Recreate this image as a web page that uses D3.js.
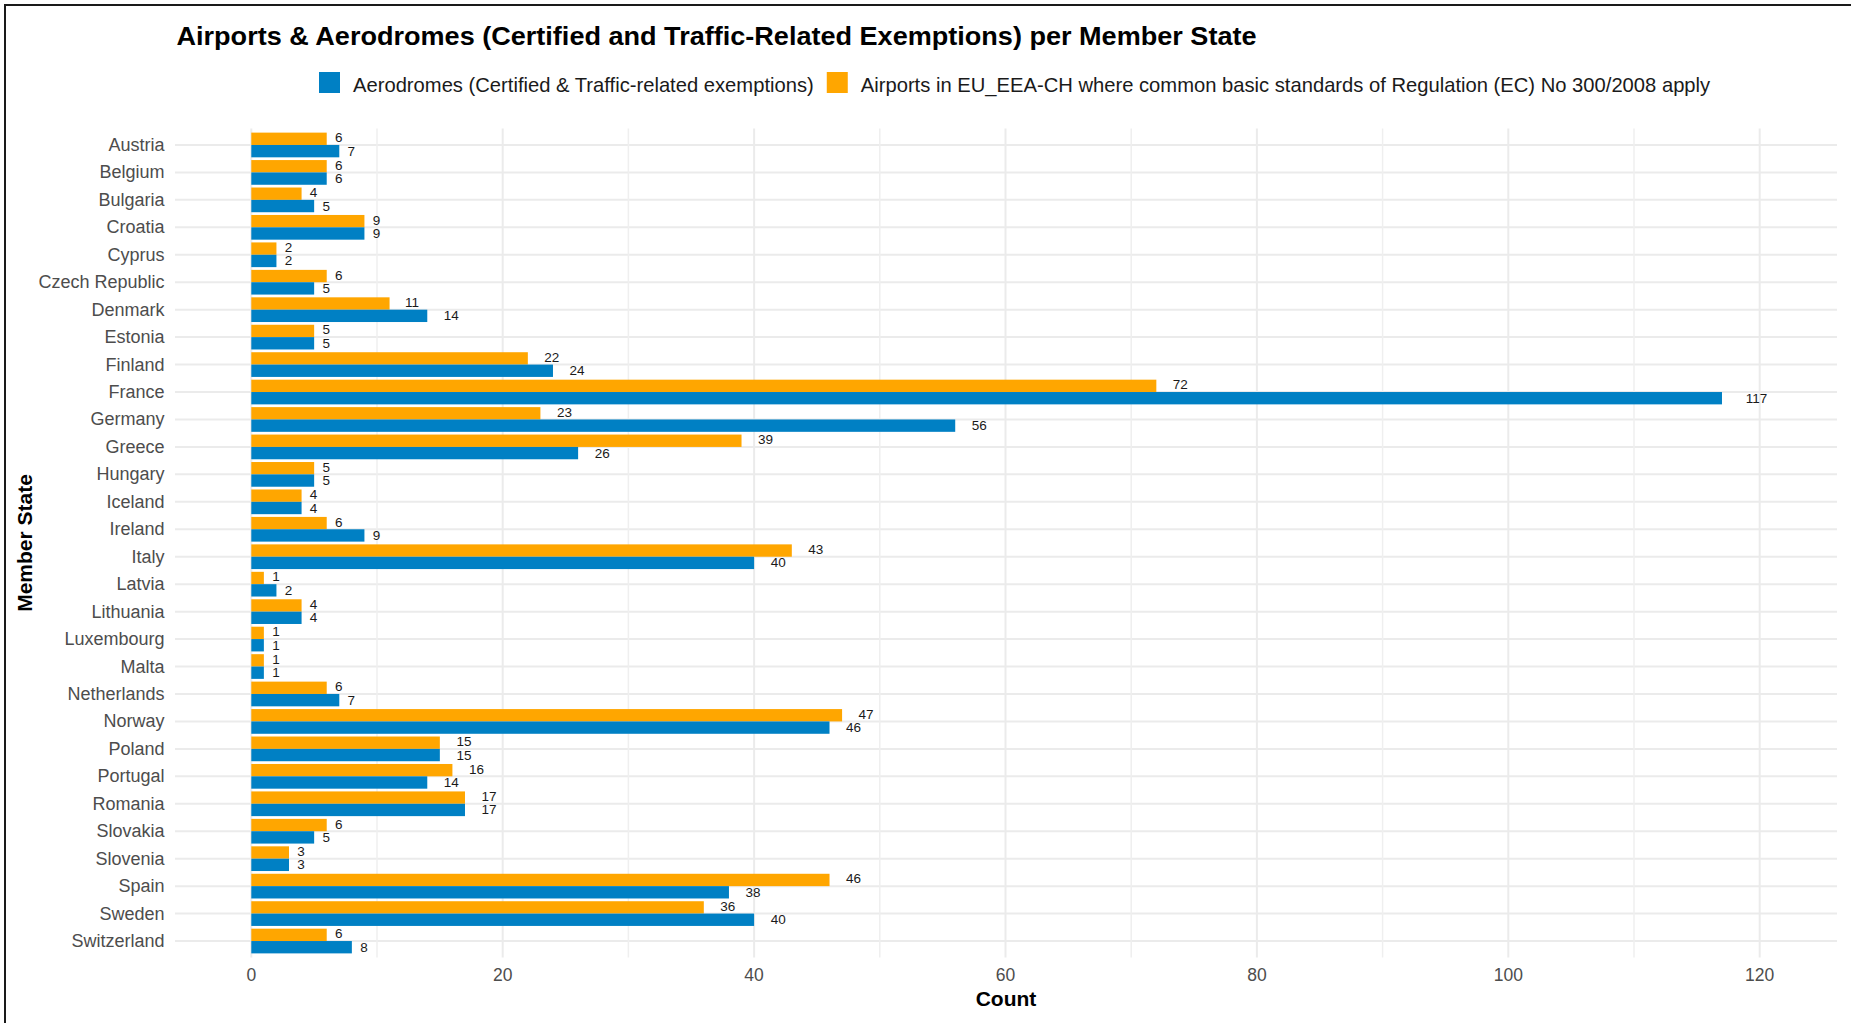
<!DOCTYPE html>
<html>
<head>
<meta charset="utf-8">
<script src="https://cdn.jsdelivr.net/npm/d3@7"></script>
<style>
  html, body { margin: 0; padding: 0; background: #ffffff; }
  svg { display: block; font-family: "Liberation Sans", Arial, sans-serif; }
</style>
</head>
<body>
<svg id="chart" width="1851" height="1023"></svg>
<script>
// Member states, top to bottom
const states = [
  "Austria", "Belgium", "Bulgaria", "Croatia", "Cyprus", "Czech Republic",
  "Denmark", "Estonia", "Finland", "France", "Germany", "Greece", "Hungary",
  "Iceland", "Ireland", "Italy", "Latvia", "Lithuania", "Luxembourg", "Malta",
  "Netherlands", "Norway", "Poland", "Portugal", "Romania", "Slovakia",
  "Slovenia", "Spain", "Sweden", "Switzerland"
];

// Airports in EU_EEA-CH where common basic standards of Regulation (EC) No 300/2008 apply
const airports = [6, 6, 4, 9, 2, 6, 11, 5, 22, 72, 23, 39, 5, 4, 6, 43, 1, 4, 1, 1, 6, 47, 15, 16, 17, 6, 3, 46, 36, 6];

// Aerodromes (Certified & Traffic-related exemptions)
const aerodromes = [7, 6, 5, 9, 2, 5, 14, 5, 24, 117, 56, 26, 5, 4, 9, 40, 2, 4, 1, 1, 7, 46, 15, 14, 17, 5, 3, 38, 40, 8];

const xTicks = [0, 20, 40, 60, 80, 100, 120];
const xMinor = [10, 30, 50, 70, 90, 110];

const seriesNames = [
  "Aerodromes (Certified & Traffic-related exemptions)",
  "Airports in EU_EEA-CH where common basic standards of Regulation (EC) No 300/2008 apply"
];
const seriesKeys = ["aerodromes", "airports"];
const colors = { aerodromes: "#0080C4", airports: "#FFA600" };

const rows = states.map((s, i) => ({ state: s, airports: airports[i], aerodromes: aerodromes[i] }));

const svg = d3.select("#chart");

// panel geometry
const panel = { left: 175, right: 1837, top: 128.5, bottom: 957.5 };

const x = d3.scaleLinear().domain([-6.07, 126.15]).range([panel.left, panel.right]);

// discrete axis with 0.6 category of padding at each end
const y = d3.scalePoint()
  .domain(states)
  .range([panel.top, panel.bottom])
  .padding(0.6);
const step = y.step();
const center = s => y(s);
const barH = step * 0.9 / 2;

// frame
svg.append("line").attr("x1", 5).attr("x2", 5).attr("y1", 4).attr("y2", 1023)
  .attr("stroke", "#1a1a1a").attr("stroke-width", 2);
svg.append("line").attr("x1", 4).attr("x2", 1851).attr("y1", 5).attr("y2", 5)
  .attr("stroke", "#1a1a1a").attr("stroke-width", 2);

// grid
const grid = svg.append("g");
grid.selectAll("line.h")
  .data(states).enter().append("line")
  .attr("x1", panel.left).attr("x2", panel.right)
  .attr("y1", d => center(d)).attr("y2", d => center(d))
  .attr("stroke", "#ebebeb").attr("stroke-width", 2);
grid.selectAll("line.vminor")
  .data(xMinor).enter().append("line")
  .attr("x1", d => x(d)).attr("x2", d => x(d))
  .attr("y1", panel.top).attr("y2", panel.bottom)
  .attr("stroke", "#efefef").attr("stroke-width", 1.5);
grid.selectAll("line.vmajor")
  .data(xTicks).enter().append("line")
  .attr("x1", d => x(d)).attr("x2", d => x(d))
  .attr("y1", panel.top).attr("y2", panel.bottom)
  .attr("stroke", "#ebebeb").attr("stroke-width", 2);

// bars: airports on top, aerodromes underneath within each state
const groups = svg.append("g").selectAll("g")
  .data(rows).enter().append("g");

groups.append("rect")
  .attr("x", x(0))
  .attr("y", d => center(d.state) - barH)
  .attr("width", d => x(d.airports) - x(0))
  .attr("height", barH)
  .attr("fill", colors.airports);

groups.append("rect")
  .attr("x", x(0))
  .attr("y", d => center(d.state))
  .attr("width", d => x(d.aerodromes) - x(0))
  .attr("height", barH)
  .attr("fill", colors.aerodromes);

// value labels, nudged right by about one label width
function valueLabel(sel, key, dy) {
  sel.append("text")
    .attr("y", d => center(d.state) + dy)
    .attr("dominant-baseline", "central")
    .attr("font-size", 13.5)
    .attr("fill", "#1a1a1a")
    .text(d => d[key])
    .each(function (d) {
      const w = this.getComputedTextLength();
      d3.select(this).attr("x", x(d[key]) + w * 1.1);
    });
}
valueLabel(groups, "airports", -barH / 2 - 1);
valueLabel(groups, "aerodromes", barH / 2);

// y axis labels
svg.append("g").selectAll("text")
  .data(states).enter().append("text")
  .attr("x", 164.5)
  .attr("y", d => center(d))
  .attr("dominant-baseline", "central")
  .attr("text-anchor", "end")
  .attr("font-size", 18)
  .attr("fill", "#4d4d4d")
  .text(d => d);

// x axis labels
svg.append("g").selectAll("text")
  .data(xTicks).enter().append("text")
  .attr("x", d => x(d))
  .attr("y", 981)
  .attr("text-anchor", "middle")
  .attr("font-size", 17.5)
  .attr("fill", "#4d4d4d")
  .text(d => d);

// axis titles
svg.append("text")
  .attr("x", (panel.left + panel.right) / 2)
  .attr("y", 1006)
  .attr("text-anchor", "middle")
  .attr("font-size", 21)
  .attr("font-weight", "bold")
  .attr("fill", "#000")
  .text("Count");

svg.append("text")
  .attr("transform", `translate(32, ${(panel.top + panel.bottom) / 2}) rotate(-90)`)
  .attr("text-anchor", "middle")
  .attr("font-size", 21)
  .attr("font-weight", "bold")
  .attr("fill", "#000")
  .text("Member State");

// title
svg.append("text")
  .attr("x", 176.5)
  .attr("y", 45)
  .attr("font-size", 25)
  .attr("font-weight", "bold")
  .attr("fill", "#000")
  .attr("textLength", 1080)
  .attr("lengthAdjust", "spacingAndGlyphs")
  .text("Airports & Aerodromes (Certified and Traffic-Related Exemptions) per Member State");

// legend
const legend = svg.append("g");
let lx = 319;
seriesKeys.forEach((k, i) => {
  legend.append("rect")
    .attr("x", lx).attr("y", 72).attr("width", 21).attr("height", 21)
    .attr("fill", colors[k]);
  const t = legend.append("text")
    .attr("x", lx + 34).attr("y", 92)
    .attr("font-size", 20.2)
    .attr("fill", "#1a1a1a")
    .text(seriesNames[i]);
  lx = lx + 34 + t.node().getComputedTextLength() + 13;
});
</script>
</body>
</html>
